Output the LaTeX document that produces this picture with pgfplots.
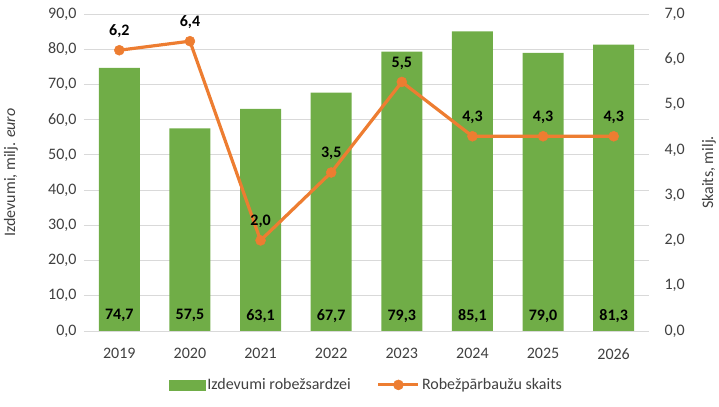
\documentclass[border=0pt]{standalone}
\usepackage{pgfplots}
\pgfplotsset{compat=1.18}
\usepackage{pgfplotstable}
\usepackage{fontspec}
\setmainfont{Carlito}

\definecolor{barg}{HTML}{70AD47}
\definecolor{lino}{HTML}{ED7D31}
\definecolor{gridc}{HTML}{D9D9D9}
\definecolor{txt}{HTML}{404040}

\pgfplotstableread{
year spend checks
2019 74.7 6.2
2020 57.5 6.4
2021 63.1 2.0
2022 67.7 3.5
2023 79.3 5.5
2024 85.1 4.3
2025 79.0 4.3
2026 81.3 4.3
}\data

\pgfplotsset{
  base/.style={
    scale only axis, width=565bp, height=317bp,
    at={(0,0)}, anchor=south west,
    xmin=2018.5, xmax=2026.5,
    /pgf/number format/assume math mode=true,
    tick style={draw=none},
    axis line style={draw=none},
    ticklabel style={text=txt},
    yticklabel style={/pgf/number format/.cd, fixed, fixed zerofill, precision=1, use comma, /tikz/.cd},
  },
  barleg/.style={legend image code/.code={\fill[barg] (0bp,-5bp) rectangle (36bp,5bp);}},
  lineleg/.style={legend image code/.code={\draw[##1, mark repeat=2, mark phase=2] plot coordinates {(0bp,0bp) (20bp,0bp) (40bp,0bp)};}},
}

\begin{document}
\fontsize{16bp}{19bp}\selectfont
\begin{tikzpicture}
\begin{axis}[base,
  ymin=0, ymax=90, ytick={0,10,...,90},
  ymajorgrids, grid style={gridc, line width=1bp},
  xtick={2019,...,2026},
  xticklabels={2019,2020,2021,2022,2023,2024,2025,2026},
  xticklabel style={yshift=-12bp},
  yticklabel style={xshift=-2bp},
  bar shift=0pt,
  every axis y label/.style={at={(axis description cs:-0.1292,0.5)}, rotate=90, anchor=center, text=txt},
  ylabel={Izdevumi, milj. \textit{euro}},
]
\addplot[ybar, bar width=0.58, fill=barg, draw=none] table[x=year, y=spend] {\data};
% bar values written near the foot of each bar
\addplot[only marks, mark=none, point meta=\thisrow{spend},
  nodes near coords={\pgfmathprintnumber[fixed, fixed zerofill, precision=1, use comma]{\pgfplotspointmeta}},
  nodes near coords style={font=\bfseries, text=black, anchor=center}]
  table[x=year, y expr=4.3] {\data};
\end{axis}

\begin{axis}[base,
  ymin=0, ymax=7, ytick={0,1,...,7},
  axis y line*=right, axis x line=none,
  yticklabel style={xshift=10bp},
  every axis y label/.style={at={(axis description cs:1.106,0.5)}, rotate=90, anchor=center, text=txt},
  ylabel={Skaits, milj.},
  legend columns=2,
  legend style={at={(0.5,-0.17)}, anchor=center, draw=none, fill=none,
    text=txt, /tikz/every even column/.append style={column sep=24bp}},
]
\addlegendimage{barleg}
\addlegendentry{Izdevumi robežsardzei}
\addplot[lino, line width=3.2bp, mark=*, mark size=5bp,
  mark options={fill=lino, draw=lino, line width=0.5bp},
  point meta=y,
  nodes near coords={\pgfmathprintnumber[fixed, fixed zerofill, precision=1, use comma]{\pgfplotspointmeta}},
  nodes near coords style={font=\bfseries, text=black, anchor=south, yshift=7bp},
  lineleg]
  table[x=year, y=checks] {\data};
\addlegendentry{Robežpārbaužu skaits}
\end{axis}
\pgfresetboundingbox
\path (-84bp,-76bp) rectangle (635bp,331bp);
\end{tikzpicture}
\end{document}
